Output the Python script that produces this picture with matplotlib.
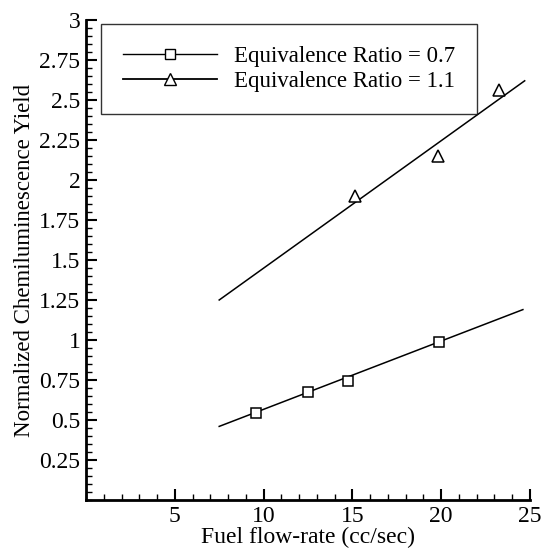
import matplotlib
matplotlib.use("Agg")
import matplotlib.pyplot as plt
from matplotlib.ticker import MultipleLocator, FixedLocator

plt.rcParams['font.family'] = ['Liberation Serif', 'DejaVu Serif']

# data
x_07 = [9.55, 12.5, 14.75, 19.9]
y_07 = [0.545, 0.675, 0.745, 0.99]
x_11 = [15.15, 19.8, 23.25]
y_11 = [1.90, 2.15, 2.56]
fit_x_07 = [7.5, 24.6]
fit_y_07 = [0.46, 1.19]
fit_x_11 = [7.5, 24.7]
fit_y_11 = [1.25, 2.62]
labels = ["Equivalence Ratio = 0.7", "Equivalence Ratio = 1.1"]
xticks = [5, 10, 15, 20, 25]
yticks = [0.25, 0.5, 0.75, 1, 1.25, 1.5, 1.75, 2, 2.25, 2.5, 2.75, 3]

fig = plt.figure(figsize=(5.44, 5.49), dpi=100)
ax = fig.add_axes([86/544, 1 - 500/549, (530-86)/544, (500-20)/549])

ax.plot(fit_x_07, fit_y_07, color='black', lw=1.1)
ax.plot(fit_x_11, fit_y_11, color='black', lw=1.1)
ax.plot(x_07, y_07, ls='none', marker='s', ms=7, mfc='white', mec='black', mew=1.1)
ax.plot(x_11, y_11, ls='none', marker='^', ms=8, mfc='white', mec='black', mew=1.1)

h1, = ax.plot([], [], color='black', lw=1.0, marker='s', ms=7, mfc='white', mec='black')
h2, = ax.plot([], [], color='black', lw=1.3, marker='^', ms=8, mfc='white', mec='black')
leg = ax.legend([h1, h2], labels, loc='upper left', bbox_to_anchor=(0.034, 0.992),
                fontsize=16.5, frameon=True, fancybox=False, edgecolor='black',
                handlelength=4.1, handletextpad=0.75, borderpad=0.95, labelspacing=0.18,
                borderaxespad=0)
leg.get_frame().set_linewidth(1.0)

ax.set_xlim(0, 25)
ax.set_ylim(0, 3)
ax.xaxis.set_major_locator(FixedLocator(xticks))
ax.yaxis.set_major_locator(FixedLocator(yticks))
ax.set_xticklabels([str(v) for v in xticks])
ax.set_yticklabels([f"{v:g}" for v in yticks])
ax.xaxis.set_minor_locator(MultipleLocator(1))
ax.yaxis.set_minor_locator(MultipleLocator(0.05))

ax.tick_params(which='major', direction='in', length=8, width=1.5, labelsize=17, pad=4)
ax.tick_params(which='minor', direction='in', length=4, width=1.0)
for s in ['top', 'right']:
    ax.spines[s].set_visible(False)
for s in ['left', 'bottom']:
    ax.spines[s].set_linewidth(2.0)

ax.set_xlabel("Fuel flow-rate (cc/sec)", fontsize=17, labelpad=0)
ax.set_ylabel("Normalized Chemiluminescence Yield", fontsize=16.5, labelpad=3)

fig.savefig("out.png", dpi=100)
